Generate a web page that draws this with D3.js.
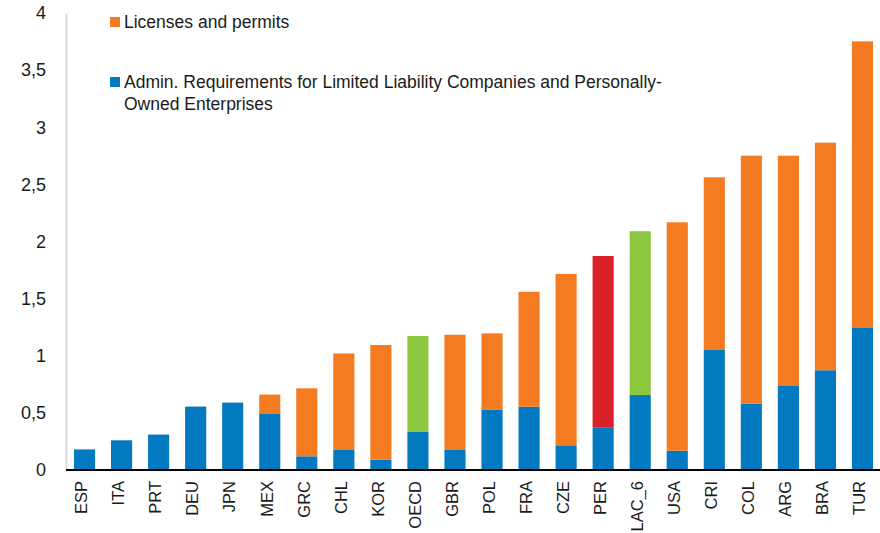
<!DOCTYPE html>
<html>
<head>
<meta charset="utf-8">
<script src="https://cdn.jsdelivr.net/npm/d3@7"></script>
<style>
  body { margin: 0; background: #fff; }
  text { font-family: "Liberation Sans", Arial, sans-serif; fill: #1a1a1a; }
</style>
</head>
<body>
<div id="main"></div>
<script>
// data
var countries = ["ESP", "ITA", "PRT", "DEU", "JPN", "MEX", "GRC", "CHL", "KOR", "OECD", "GBR",
                 "POL", "FRA", "CZE", "PER", "LAC_6", "USA", "CRI", "COL", "ARG", "BRA", "TUR"];
var adminReq = [0.18, 0.26, 0.31, 0.555, 0.59, 0.49, 0.12, 0.18, 0.09, 0.333, 0.18,
                0.53, 0.554, 0.216, 0.37, 0.656, 0.169, 1.056, 0.58, 0.741, 0.873, 1.243];
var licenses = [0, 0, 0, 0, 0, 0.17, 0.595, 0.84, 1.004, 0.84, 1.004,
                0.666, 1.006, 1.5, 1.503, 1.434, 1.999, 1.506, 2.171, 2.01, 1.992, 2.509];
var yTicks = [0, 0.5, 1, 1.5, 2, 2.5, 3, 3.5, 4];
var legendLabels = ["Licenses and permits",
                    "Admin. Requirements for Limited Liability Companies and Personally-|Owned Enterprises"];

var ctx = {
    width: 880,
    height: 533,
    blue: "#0279c0",
    orange: "#f47b20",
    green: "#8dc63f",
    red: "#da2128"
};

// top segment colour: OECD and LAC_6 averages green, Peru red
var topColor = function(c) {
    if (c === "OECD" || c === "LAC_6") return ctx.green;
    if (c === "PER") return ctx.red;
    return ctx.orange;
};

var svg = d3.select("#main").append("svg")
    .attr("width", ctx.width)
    .attr("height", ctx.height);

var x = d3.scaleBand()
    .domain(countries)
    .range([66, 881])
    .paddingInner(0.43)
    .paddingOuter(0.215);

var y = d3.scaleLinear()
    .domain([0, 4])
    .range([470, 13]);

// y axis: light grey line, labels only
var yAxis = d3.axisLeft(y)
    .tickValues(yTicks)
    .tickSize(0)
    .tickPadding(20)
    .tickFormat(function(d) { return String(d).replace(".", ","); });

var gy = svg.append("g")
    .attr("transform", "translate(66,0)")
    .call(yAxis);
gy.select(".domain").attr("stroke", "#d9d9d9").attr("stroke-width", 2);
gy.selectAll("text")
    .style("font-family", "'Liberation Sans', Arial, sans-serif")
    .style("font-size", "18px")
    .attr("fill", "#1a1a1a");

var rows = countries.map(function(c, i) {
    return {country: c, admin: adminReq[i], lic: licenses[i]};
});

// blue bottoms
svg.append("g").selectAll("rect")
    .data(rows)
    .enter().append("rect")
    .attr("x", function(d) { return x(d.country); })
    .attr("width", x.bandwidth())
    .attr("y", function(d) { return y(d.admin); })
    .attr("height", function(d) { return y(0) - y(d.admin); })
    .attr("fill", ctx.blue);

// stacked tops
svg.append("g").selectAll("rect")
    .data(rows.filter(function(d) { return d.lic > 0; }))
    .enter().append("rect")
    .attr("x", function(d) { return x(d.country); })
    .attr("width", x.bandwidth())
    .attr("y", function(d) { return y(d.admin + d.lic); })
    .attr("height", function(d) { return y(d.admin) - y(d.admin + d.lic); })
    .attr("fill", function(d) { return topColor(d.country); });

// x axis baseline + rotated labels
var xAxis = d3.axisBottom(x).tickSize(0).tickPadding(0);
var gx = svg.append("g")
    .attr("transform", "translate(0," + y(0) + ")")
    .call(xAxis);
gx.select(".domain").attr("stroke", "#000").attr("stroke-width", 2)
    .attr("d", "M66,0H880");
gx.selectAll("text")
    .style("font-family", "'Liberation Sans', Arial, sans-serif")
    .style("font-size", "16.5px")
    .attr("fill", "#1a1a1a")
    .attr("text-anchor", "end")
    .attr("transform", "translate(-3,11) rotate(-90)")
    .attr("x", 0)
    .attr("y", 0)
    .attr("dy", "0.35em");

// legend
var legend = svg.append("g");
var legendItems = [
    {color: ctx.orange, lines: legendLabels[0].split("|"), y: 28},
    {color: ctx.blue, lines: legendLabels[1].split("|"), y: 88}
];
legendItems.forEach(function(item) {
    legend.append("rect")
        .attr("x", 110).attr("y", item.y - 11)
        .attr("width", 10).attr("height", 10)
        .attr("fill", item.color);
    var t = legend.append("text")
        .attr("x", 124).attr("y", item.y)
        .style("font-size", "17.5px");
    item.lines.forEach(function(l, i) {
        t.append("tspan").attr("x", 124).attr("dy", i === 0 ? 0 : 22).text(l);
    });
});
</script>
</body>
</html>
